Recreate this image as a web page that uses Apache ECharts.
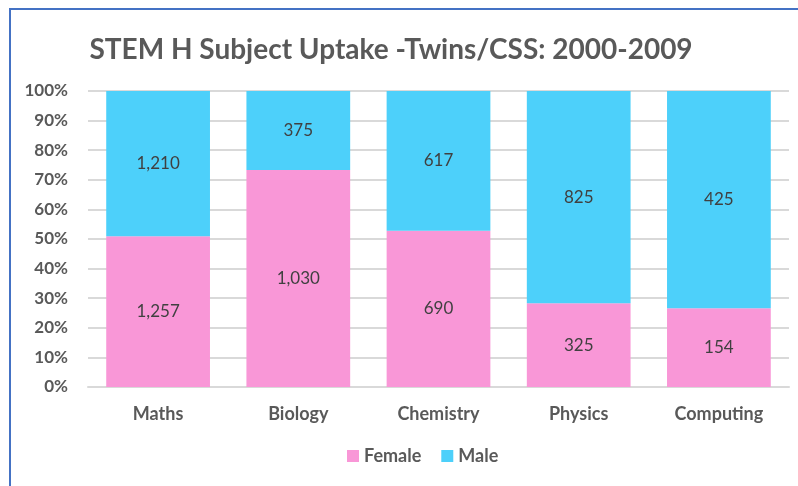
<!DOCTYPE html>
<html>
<head>
<meta charset="utf-8">
<script src="https://cdn.jsdelivr.net/npm/echarts@6/dist/echarts.min.js"></script>
<style>
  html, body { margin: 0; padding: 0; background: #fff; }
  #wrap { position: relative; width: 798px; height: 486px; }
  #frame { position: absolute; left: 9px; top: 8px; right: 0; bottom: 0;
           border-left: 2px solid #4472C4; border-top: 2px solid #4472C4; }
  #chart { position: absolute; left: 0; top: 0; width: 798px; height: 486px; }
</style>
</head>
<body>
<div id="wrap">
  <div id="frame"></div>
  <div id="chart"></div>
</div>
<script>
// subjects and head counts
const subjects = ['Maths', 'Biology', 'Chemistry', 'Physics', 'Computing'];
const female = [1257, 1030, 690, 325, 154];
const male = [1210, 375, 617, 825, 425];
const yTicks = [0, 10, 20, 30, 40, 50, 60, 70, 80, 90, 100];

const font = 'Lato, "Open Sans", sans-serif';

// 100% stacked: share of each subject total, keep raw count for the label
function toShare(arr) {
  return arr.map((v, i) => ({
    value: v / (female[i] + male[i]) * 100,
    raw: v
  }));
}

const chart = echarts.init(document.getElementById('chart'));

const labelStyle = {
  show: true,
  position: 'inside',
  color: '#404040',
  fontFamily: font,
  fontSize: 17,
  formatter: p => p.data.raw.toLocaleString('en-US')
};

chart.setOption({
  animation: false,
  title: {
    text: 'STEM H Subject Uptake -Twins/CSS: 2000-2009',
    left: 386,
    textAlign: 'center',
    top: 31,
    textStyle: { fontFamily: font, fontSize: 28, fontWeight: 'bold', color: '#595959' }
  },
  legend: {
    data: ['Female', 'Male'],
    left: 342,
    top: 442,
    itemWidth: 12,
    itemHeight: 12,
    itemGap: 20,
    icon: 'rect',
    textStyle: { fontFamily: font, fontSize: 18, fontWeight: 'bold', color: '#595959' }
  },
  grid: { left: 88, right: 9, top: 91, bottom: 99 },
  xAxis: {
    type: 'category',
    data: subjects,
    axisTick: { show: false },
    axisLine: { lineStyle: { color: '#d9d9d9', width: 2 } },
    axisLabel: { margin: 18, fontFamily: font, fontSize: 18, fontWeight: 'bold', color: '#595959' }
  },
  yAxis: {
    type: 'value',
    min: yTicks[0],
    max: yTicks[yTicks.length - 1],
    interval: 10,
    axisLine: { show: false },
    axisTick: { show: false },
    splitLine: { lineStyle: { color: '#d9d9d9', width: 2 } },
    axisLabel: { margin: 20, fontFamily: font, fontSize: 17, fontWeight: 'bold', color: '#595959',
                 formatter: v => v + '%' }
  },
  series: [
    {
      name: 'Female', type: 'bar', stack: 'total',
      barCategoryGap: '26%',
      itemStyle: { color: '#F997D7' },
      label: labelStyle,
      data: toShare(female)
    },
    {
      name: 'Male', type: 'bar', stack: 'total',
      barCategoryGap: '26%',
      itemStyle: { color: '#4DD0FA' },
      label: labelStyle,
      data: toShare(male)
    }
  ]
});
</script>
</body>
</html>
